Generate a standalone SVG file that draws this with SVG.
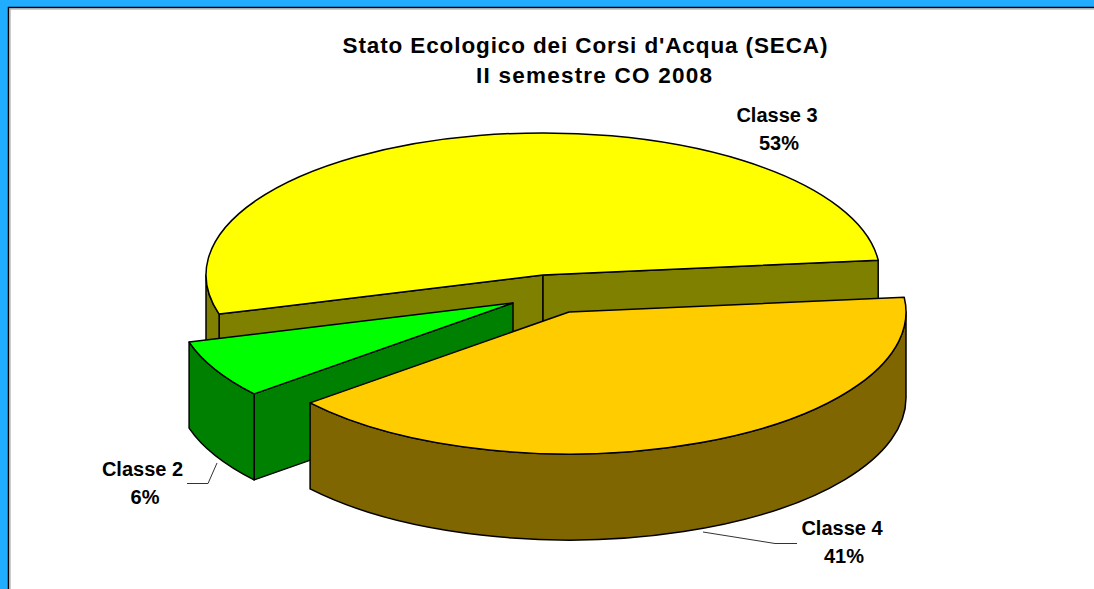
<svg xmlns="http://www.w3.org/2000/svg" width="1094" height="589" viewBox="0 0 1094 589">
<style>
.e{stroke:#000;stroke-width:1.5;stroke-linejoin:round}
.yt{fill:#FFFF00}.yw{fill:#808000}
.gt{fill:#00FF00}.gw{fill:#008000}
.ot{fill:#FFCC00}.ow{fill:#806600}
.lbl{font-family:"Liberation Sans",Arial,sans-serif;font-weight:bold;font-size:20px;fill:#000;text-anchor:middle}
.ttl{font-family:"Liberation Sans",Arial,sans-serif;font-weight:bold;font-size:22.5px;fill:#000;text-anchor:middle}
.ld{fill:none;stroke:#333;stroke-width:1}
</style>
<rect x="0" y="0" width="1094" height="589" fill="#21ADFF"/>
<rect x="8" y="7" width="1100" height="600" fill="#FFFFFF"/>
<path d="M8.5,589 V7.5 H1094" fill="none" stroke="#000" stroke-width="1.5"/>
<path d="M10,589 V9 H1094" fill="none" stroke="#999" stroke-width="1"/>
<g id="title">
<text class="ttl" x="585" y="53" textLength="485" lengthAdjust="spacing">Stato Ecologico dei Corsi d'Acqua (SECA)</text>
<text class="ttl" x="594" y="83" textLength="236" lengthAdjust="spacing">II semestre CO 2008</text>
</g>
<g id="slice-classe3">
<path class="e yw" d="M543,275 L219.1,314.1 L219.1,400.1 L543,361 Z"/>
<path class="e yw" d="M543,275 L878.2,260.2 L878.2,346.2 L543,361 Z"/>
<path class="e yw" d="M219.1,314.1 A337,142 0 0 1 206,275 L206,361 A337,142 0 0 0 219.1,400.1 Z"/>
<path class="e yt" d="M543,275 L878.2,260.2 A337,142 0 1 0 219.1,314.1 Z"/>
</g>
<g id="slice-classe2">
<path class="e gw" d="M513,303 L254.1,393.9 L254.1,479.9 L513,389 Z"/>
<path class="e gw" d="M254.1,393.9 A337,142 0 0 1 189.1,342.1 L189.1,428.1 A337,142 0 0 0 254.1,479.9 Z"/>
<path class="e gt" d="M513,303 L254.1,393.9 A337,142 0 0 1 189.1,342.1 Z"/>
</g>
<g id="slice-classe4">
<path class="e ow" d="M906,312 A337,142 0 0 1 310.1,402.9 L310.1,488.9 A337,142 0 0 0 906,398 Z"/>
<path class="e ot" d="M569,312 L904.2,297.2 A337,142 0 0 1 310.1,402.9 Z"/>
</g>
<g id="connectors">
<path class="ld" d="M187,483.5 H208 L217,463"/>
<path class="ld" d="M703,532 L775,543.5 H797"/>
</g>
<g id="label-classe3">
<text class="lbl" x="777" y="122">Classe 3</text>
<text class="lbl" x="779" y="150">53%</text>
</g>
<g id="label-classe2">
<text class="lbl" x="142.5" y="476">Classe 2</text>
<text class="lbl" x="145" y="504">6%</text>
</g>
<g id="label-classe4">
<text class="lbl" x="842" y="535">Classe 4</text>
<text class="lbl" x="844" y="563">41%</text>
</g>
</svg>
